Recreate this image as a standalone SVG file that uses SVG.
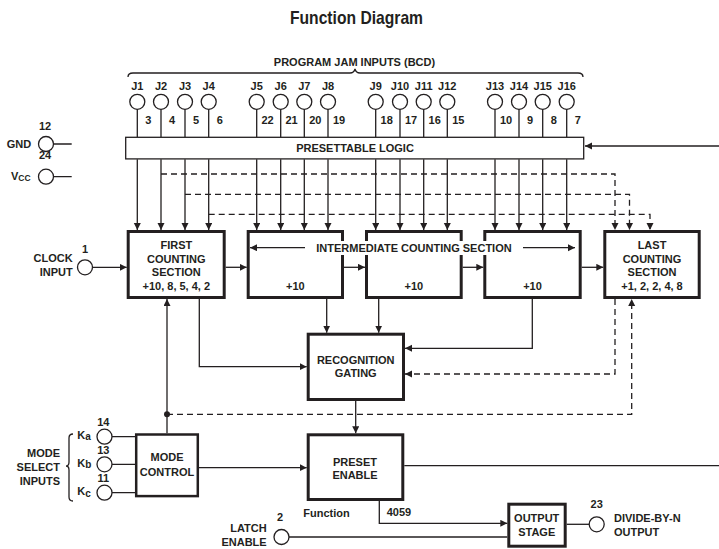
<svg xmlns="http://www.w3.org/2000/svg" width="719" height="549" viewBox="0 0 719 549">
<defs>
<marker id="ah" markerUnits="userSpaceOnUse" markerWidth="8" markerHeight="8" refX="7" refY="3.5" orient="auto"><path d="M0,0 L7,3.5 L0,7 Z" fill="#231f20"/></marker>
</defs>
<style>
text{font-family:"Liberation Sans",Arial,sans-serif;font-weight:bold;font-size:11px;fill:#231f20}
.m{text-anchor:middle}
.e{text-anchor:end}
.box{fill:#fff;stroke:#231f20;stroke-width:3}
.box2{fill:#fff;stroke:#231f20;stroke-width:2.5}
.thin{fill:#fff;stroke:#231f20;stroke-width:1.3}
.pin{fill:#fff;stroke:#231f20;stroke-width:1.3}
.w{fill:none;stroke:#231f20;stroke-width:1.3}
.a{marker-end:url(#ah)}
.d{stroke-dasharray:6 4}
.sub{font-size:10px}
</style>
<rect width="719" height="549" fill="#fff"/>
<text x="290" y="24" style="font-size:18.5px" textLength="133" lengthAdjust="spacingAndGlyphs">Function Diagram</text>
<text class="m" x="354.5" y="65.5">PROGRAM JAM INPUTS (BCD)</text>
<path class="w" d="M128,77 Q128,73 133,73 L350,73 Q354,73 355,69 Q356,73 360,73 L578,73 Q583,73 583,77"/>

<g id="connectors">
<g class="w">
<path d="M137.3,109.3V137.3M161,109.3V137.3M185,109.3V137.3M208.7,109.3V137.3M256.7,109.3V137.3M280.7,109.3V137.3M304.3,109.3V137.3M328,109.3V137.3M375.7,109.3V137.3M400,109.3V137.3M423.7,109.3V137.3M447.3,109.3V137.3M495,109.3V137.3M519,109.3V137.3M542.7,109.3V137.3M566.7,109.3V137.3"/>
</g>
<g class="w d">
<path class="a" d="M161,174H615V230"/>
<path class="a" d="M185,194.3H629.5V230"/>
<path class="a" d="M208.7,214.3H650V230"/>
</g>
<g class="w">
<path class="a" d="M137.3,159.3V230"/>
<path class="a" d="M161,159.3V230"/>
<path class="a" d="M185,159.3V230"/>
<path class="a" d="M208.7,159.3V230"/>
<path class="a" d="M256.7,159.3V230"/>
<path class="a" d="M280.7,159.3V230"/>
<path class="a" d="M304.3,159.3V230"/>
<path class="a" d="M328,159.3V230"/>
<path class="a" d="M375.7,159.3V230"/>
<path class="a" d="M400,159.3V230"/>
<path class="a" d="M423.7,159.3V230"/>
<path class="a" d="M447.3,159.3V230"/>
<path class="a" d="M495,159.3V230"/>
<path class="a" d="M519,159.3V230"/>
<path class="a" d="M542.7,159.3V230"/>
<path class="a" d="M566.7,159.3V230"/>
<path class="a" d="M719,146H585"/>
<path class="a" d="M92.5,267.3H126.7"/>
<path class="a" d="M225.7,267.3H246.7"/>
<path class="a" d="M344,267.3H365"/>
<path class="a" d="M462.7,267.3H483.3"/>
<path class="a" d="M581.7,267.3H603.3"/>
<path class="a" d="M199.3,299V366.7H306.7"/>
<path class="a" d="M326.7,299V332.7"/>
<path class="a" d="M378.7,299V332.7"/>
<path class="a" d="M532.3,299V348.3H405"/>
<path class="a" d="M355.7,401V433.3"/>
<path class="a" d="M167,433.3V299"/>
<path class="a" d="M199,467.7H306.7"/>
<path d="M404.3,465.7H719"/>
<path class="a" d="M379.3,501V523.3H507.3"/>
<path d="M289,537H507.3"/>
<path d="M566.7,524.3H589.2"/>
<path d="M53.5,144H71.7M53.5,176.7H71.7"/>
<path d="M112,436.7H135M112,464.3H135M112,492.7H135"/>
</g>
<g class="w d">
<path class="a" d="M615,299V374H405"/>
<path class="a" d="M167,414.3H631.7V299"/>
</g>
<circle cx="167" cy="414.3" r="3" fill="#231f20"/>
</g>

<g id="jam-pins">
<g id="J1"><circle class="pin" cx="137.3" cy="101.8" r="7.5"/><text class="m" x="137.3" y="89.5">J1</text><text class="m" x="148.3" y="124">3</text></g>
<g id="J2"><circle class="pin" cx="161" cy="101.8" r="7.5"/><text class="m" x="161" y="89.5">J2</text><text class="m" x="172" y="124">4</text></g>
<g id="J3"><circle class="pin" cx="185" cy="101.8" r="7.5"/><text class="m" x="185" y="89.5">J3</text><text class="m" x="196" y="124">5</text></g>
<g id="J4"><circle class="pin" cx="208.7" cy="101.8" r="7.5"/><text class="m" x="208.7" y="89.5">J4</text><text class="m" x="219.7" y="124">6</text></g>
<g id="J5"><circle class="pin" cx="256.7" cy="101.8" r="7.5"/><text class="m" x="256.7" y="89.5">J5</text><text class="m" x="267.5" y="124">22</text></g>
<g id="J6"><circle class="pin" cx="280.7" cy="101.8" r="7.5"/><text class="m" x="280.7" y="89.5">J6</text><text class="m" x="291.5" y="124">21</text></g>
<g id="J7"><circle class="pin" cx="304.3" cy="101.8" r="7.5"/><text class="m" x="304.3" y="89.5">J7</text><text class="m" x="315.3" y="124">20</text></g>
<g id="J8"><circle class="pin" cx="328" cy="101.8" r="7.5"/><text class="m" x="328" y="89.5">J8</text><text class="m" x="339" y="124">19</text></g>
<g id="J9"><circle class="pin" cx="375.7" cy="101.8" r="7.5"/><text class="m" x="375.7" y="89.5">J9</text><text class="m" x="386.7" y="124">18</text></g>
<g id="J10"><circle class="pin" cx="400" cy="101.8" r="7.5"/><text class="m" x="400" y="89.5">J10</text><text class="m" x="411" y="124">17</text></g>
<g id="J11"><circle class="pin" cx="423.7" cy="101.8" r="7.5"/><text class="m" x="423.7" y="89.5">J11</text><text class="m" x="434.7" y="124">16</text></g>
<g id="J12"><circle class="pin" cx="447.3" cy="101.8" r="7.5"/><text class="m" x="447.3" y="89.5">J12</text><text class="m" x="458.3" y="124">15</text></g>
<g id="J13"><circle class="pin" cx="495" cy="101.8" r="7.5"/><text class="m" x="495" y="89.5">J13</text><text class="m" x="506" y="124">10</text></g>
<g id="J14"><circle class="pin" cx="519" cy="101.8" r="7.5"/><text class="m" x="519" y="89.5">J14</text><text class="m" x="530" y="124">9</text></g>
<g id="J15"><circle class="pin" cx="542.7" cy="101.8" r="7.5"/><text class="m" x="542.7" y="89.5">J15</text><text class="m" x="553.7" y="124">8</text></g>
<g id="J16"><circle class="pin" cx="566.7" cy="101.8" r="7.5"/><text class="m" x="566.7" y="89.5">J16</text><text class="m" x="577.7" y="124">7</text></g>
</g>

<g id="gnd"><text x="6.7" y="147.7">GND</text><text class="m" x="45" y="130">12</text><circle class="pin" cx="46" cy="144" r="7.5"/></g>
<g id="vcc"><text x="11" y="179.5">V<tspan class="sub" style="font-size:8.5px" dy="1">CC</tspan></text><text class="m" x="45" y="159.3">24</text><circle class="pin" cx="46" cy="176.7" r="7.5"/></g>

<g id="presettable-logic"><rect class="thin" x="125.7" y="137.3" width="458" height="21.6"/><text class="m" x="355" y="152.3">PRESETTABLE LOGIC</text></g>

<g id="clock-input"><circle class="pin" cx="85" cy="267.3" r="7.5"/><text class="m" x="85" y="253.3">1</text><text class="e" x="72.7" y="261.7">CLOCK</text><text class="e" x="72.7" y="275.7">INPUT</text></g>

<g id="first-counting"><rect class="box" x="128.2" y="231.5" width="96" height="66"/>
<text class="m" x="176.3" y="249.3">FIRST</text><text class="m" x="176.3" y="262.5">COUNTING</text><text class="m" x="176.3" y="276">SECTION</text><text class="m" x="176.3" y="289.5">+10, 8, 5, 4, 2</text></g>
<g id="intermediate-1"><rect class="box" x="248.2" y="231.5" width="94.3" height="66"/><text class="m" x="295.3" y="289.5">+10</text></g>
<g id="intermediate-2"><rect class="box" x="366.5" y="231.5" width="94.7" height="66"/><text class="m" x="413.8" y="289.5">+10</text></g>
<g id="intermediate-3"><rect class="box" x="484.8" y="231.5" width="95.4" height="66"/><text class="m" x="532.5" y="289.5">+10</text></g>
<g id="last-counting"><rect class="box" x="604.8" y="231.5" width="94.4" height="66"/>
<text class="m" x="652" y="249.3">LAST</text><text class="m" x="652" y="262.5">COUNTING</text><text class="m" x="652" y="276">SECTION</text><text class="m" x="652" y="289.5">+1, 2, 2, 4, 8</text></g>
<g id="intermediate-label"><rect x="311" y="241" width="207" height="14" fill="#fff"/><text class="m" x="414" y="252">INTERMEDIATE COUNTING SECTION</text>
<path class="w a" d="M305,247.7H250"/><path class="w a" d="M523,247.7H575"/></g>

<g id="recognition-gating"><rect class="box" x="308.2" y="334.2" width="95.3" height="65.3"/><text class="m" x="355.7" y="364">RECOGNITION</text><text class="m" x="355.7" y="377.3">GATING</text></g>

<g id="mode-select">
<text class="e" x="60" y="457.3">MODE</text><text class="e" x="60" y="470.7">SELECT</text><text class="e" x="60" y="485">INPUTS</text>
<path class="w" d="M73,434 Q69,434 69,438 L69,462 Q69,466 66,466 Q69,466 69,470 L69,497 Q69,501 73,501"/>
</g>
<g id="ka"><circle class="pin" cx="104.5" cy="436.7" r="7.5"/><text x="77.3" y="438.5">K<tspan class="sub" dy="1.5">a</tspan></text><text class="m" x="103.3" y="425.7">14</text></g>
<g id="kb"><circle class="pin" cx="104.5" cy="464.3" r="7.5"/><text x="77.3" y="466.5">K<tspan class="sub" dy="1.5">b</tspan></text><text class="m" x="103.3" y="454">13</text></g>
<g id="kc"><circle class="pin" cx="104.5" cy="492.7" r="7.5"/><text x="77.3" y="495">K<tspan class="sub" dy="1.5">c</tspan></text><text class="m" x="103.3" y="482.3">11</text></g>

<g id="mode-control"><rect class="box2" x="136.2" y="434.5" width="61.6" height="61.6"/><text class="m" x="167" y="461">MODE</text><text class="m" x="167" y="475.7">CONTROL</text></g>

<g id="preset-enable"><rect class="box" x="308.2" y="434.8" width="94.6" height="64.7"/><text class="m" x="355" y="466">PRESET</text><text class="m" x="355" y="479">ENABLE</text></g>
<text x="303.3" y="516.7">Function</text>
<text x="386.7" y="515.7">4059</text>

<g id="latch-enable"><circle class="pin" cx="281.5" cy="537" r="7.5"/><text class="m" x="280" y="521">2</text><text class="e" x="266.7" y="532.3">LATCH</text><text class="e" x="266.7" y="546">ENABLE</text></g>

<g id="output-stage"><rect class="box" x="508.8" y="504.2" width="56.4" height="42"/><text class="m" x="536.7" y="522.3">OUTPUT</text><text class="m" x="536.7" y="536">STAGE</text></g>

<g id="divide-output"><circle class="pin" cx="596.7" cy="524.3" r="7.5"/><text class="m" x="596.7" y="508.3">23</text><text x="614" y="522.3">DIVIDE-BY-N</text><text x="614" y="536">OUTPUT</text></g>
</svg>
